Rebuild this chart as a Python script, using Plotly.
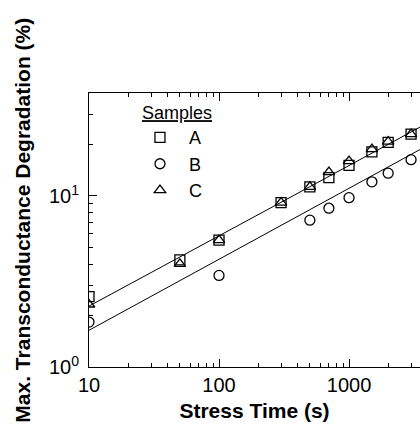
import numpy as np
import plotly.graph_objects as go

# ---- data ----
time_A = [10, 50, 100, 300, 500, 700, 1000, 1500, 2000, 3000]
deg_A = [2.58, 4.23, 5.52, 9.14, 11.3, 12.8, 15.1, 18.1, 20.6, 23.0]

time_B = [10, 100, 500, 700, 1000, 1500, 2000, 3000]
deg_B = [1.83, 3.43, 7.22, 8.48, 9.77, 12.1, 13.6, 16.3]

time_C = [10, 50, 100, 300, 500, 700, 1000, 1500, 2000, 3000]
deg_C = [2.32, 4.01, 5.52, 9.14, 11.3, 13.8, 16.0, 18.8, 20.8, 23.0]

# power-law fit lines: y = a * (t/10)^n
fit_AC = {"a": 2.27, "n": 0.411}
fit_B = {"a": 1.64, "n": 0.415}
fit_t = [10, 10000]

x_tickvals = [10, 100, 1000]
x_ticktext = ["10", "100", "1000"]
y_tickvals = [1, 10]
y_ticktext = ["10<sup>0</sup>", "10<sup>1</sup>"]

FONT = "Liberation Sans, Arial, sans-serif"

def power_line(fit, t):
    t = np.asarray(t, dtype=float)
    return fit["a"] * (t / 10.0) ** fit["n"]

fig = go.Figure()

mk = dict(color="black", size=10, line=dict(color="black", width=1.3))

fig.add_trace(go.Scatter(x=fit_t, y=power_line(fit_AC, fit_t), mode="lines",
                         line=dict(color="black", width=1), showlegend=False))
fig.add_trace(go.Scatter(x=fit_t, y=power_line(fit_B, fit_t), mode="lines",
                         line=dict(color="black", width=1), showlegend=False))

fig.add_trace(go.Scatter(x=time_A, y=deg_A, mode="markers", name="\u2002A",
                         marker=dict(symbol="square-open", **mk)))
fig.add_trace(go.Scatter(x=time_B, y=deg_B, mode="markers", name="\u2002B",
                         marker=dict(symbol="circle-open", **mk)))
fig.add_trace(go.Scatter(x=time_C, y=deg_C, mode="markers", name="\u2002C",
                         marker=dict(symbol="triangle-up-open", **mk)))

axis_common = dict(
    showgrid=False, zeroline=False, showline=True, linecolor="black", linewidth=1,
    ticks="inside", ticklen=8, tickcolor="black", tickwidth=1,
    tickfont=dict(family=FONT, size=20, color="black"),
    minor=dict(ticks="inside", ticklen=4, tickcolor="black", dtick="D1", showgrid=False),
)

fig.update_xaxes(type="log", range=[1, 3.546], tickmode="array",
                 tickvals=x_tickvals, ticktext=x_ticktext, mirror="ticks",
                 title=dict(text="<b>Stress Time (s)</b>",
                            font=dict(family=FONT, size=21, color="black"), standoff=8),
                 **axis_common)
fig.update_yaxes(type="log", range=[0, np.log10(40)], tickmode="array",
                 tickvals=y_tickvals, ticktext=y_ticktext, mirror=False,
                 ticklabelstandoff=5,
                 **axis_common)

fig.add_annotation(text="<b>Max. Transconductance Degradation (%)</b>",
                   xref="paper", yref="paper", x=-0.2, y=0.537,
                   xanchor="center", yanchor="middle", textangle=-90, showarrow=False,
                   font=dict(family=FONT, size=21, color="black"))

fig.update_layout(
    width=420, height=426,
    margin=dict(l=89, r=0, t=93, b=59),
    paper_bgcolor="white", plot_bgcolor="white",
    font=dict(family=FONT, color="black"),
    legend=dict(x=0.154, y=0.99, xanchor="left", yanchor="top",
                bgcolor="rgba(0,0,0,0)", borderwidth=0,
                title=dict(text="<u>Samples</u>", font=dict(family=FONT, size=18, color="black")),
                font=dict(family=FONT, size=18, color="black"),
                itemwidth=30, tracegroupgap=0),
)

fig.write_html("out.html", config={"displayModeBar": False},
               post_script="document.body.style.margin='0';document.body.style.overflow='hidden';")
